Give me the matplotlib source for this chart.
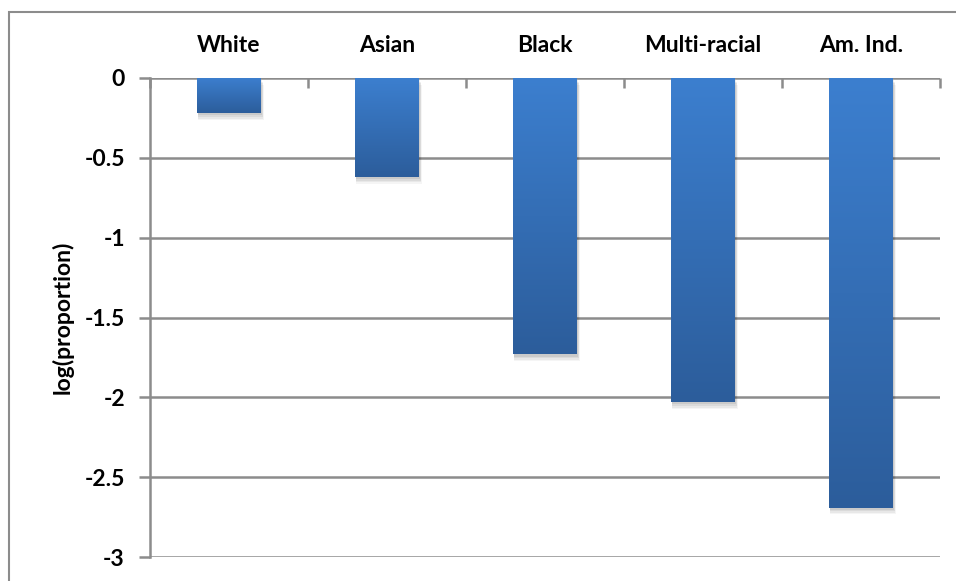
import matplotlib
matplotlib.use("Agg")
import matplotlib.pyplot as plt
import numpy as np
from matplotlib.patches import Rectangle
from matplotlib.colors import LinearSegmentedColormap

categories = ["White", "Asian", "Black", "Multi-racial", "Am. Ind."]
values = [-0.22, -0.62, -1.73, -2.03, -2.69]
yticks = [0, -0.5, -1, -1.5, -2, -2.5, -3]
ytick_labels = ["0", "-0.5", "-1", "-1.5", "-2", "-2.5", "-3"]

plt.rcParams['font.family'] = ['Lato', 'DejaVu Sans']
FS = 16.5

fig = plt.figure(figsize=(9.56, 5.81), dpi=100)
# outer border (only left and top visible)
fig.patches.append(Rectangle((9/956, -0.05), 1.2, 1 - 12/581 + 0.05, transform=fig.transFigure,
                             fill=False, edgecolor='#8c8c8c', linewidth=1.5))

ax = fig.add_axes([150/956, 1 - 557/581, 790/956, (557 - 78)/581])
ax.set_xlim(0, len(categories))
ax.set_ylim(-3, 0)

grid_c = '#8c8c8c'
for t in yticks:
    ax.axhline(t, color=grid_c, linewidth=1.8, zorder=1)

cmap = LinearSegmentedColormap.from_list('g', ['#2c5d9b', '#3c7fcf'])
width = 0.405
for i, v in enumerate(values):
    x0 = i + 0.5 - width / 2
    # soft shadow
    for k, a in enumerate([0.04, 0.05, 0.06, 0.07]):
        off = 0.012 * (4 - k)
        s = Rectangle((x0 + 0.004, v - 0.005 - off * 0.8), width + off * 0.3, -v,
                      facecolor='black', alpha=a, edgecolor='none', zorder=2)
        ax.add_patch(s)
    grad = np.linspace(0, 1, 256).reshape(-1, 1)
    im = ax.imshow(grad, extent=(x0, x0 + width, v, 0), origin='lower', cmap=cmap,
                   aspect='auto', zorder=3)
    rect = Rectangle((x0, v), width, -v, facecolor='none', edgecolor='none', zorder=3)
    ax.add_patch(rect)
    im.set_clip_path(rect)

ax.set_xlim(0, len(categories))
ax.set_ylim(-3, 0)

ax.xaxis.tick_top()
ax.set_xticks(np.arange(len(categories)) + 0.5)
ax.set_xticklabels(categories, fontsize=FS, fontweight='bold')
ax.tick_params(axis='x', length=0, pad=16)
ax.set_xticks(np.arange(0, len(categories) + 1), minor=True)
ax.tick_params(axis='x', which='minor', direction='in', length=7, width=1.8, color=grid_c, top=True)

ax.set_yticks(yticks)
ax.set_yticklabels(ytick_labels, fontsize=FS, fontweight='bold')
ax.tick_params(axis='y', length=8, width=1.8, color=grid_c, pad=10)
ax.set_ylabel("log(proportion)", fontsize=FS, fontweight='bold', labelpad=8)

for s in ['top', 'right', 'bottom']:
    ax.spines[s].set_visible(False)
ax.spines['left'].set_color(grid_c)
ax.spines['left'].set_linewidth(1.8)

fig.savefig("out.png", dpi=100)
